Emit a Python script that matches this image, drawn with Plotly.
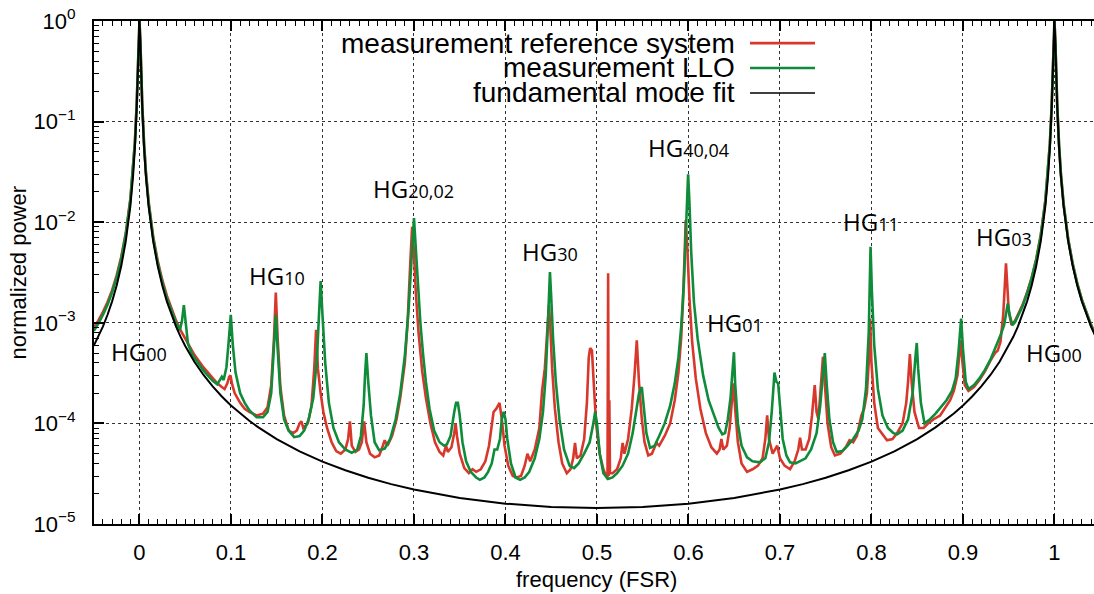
import plotly.graph_objects as go

# ---------------- data ----------------
fit_x = [-0.05, -0.045, -0.04, -0.035, -0.03, -0.025, -0.02, -0.015, -0.01, -0.007, -0.005, -0.003,
         -0.002, -0.001, 0.0, 0.001, 0.002, 0.003, 0.005, 0.007, 0.01, 0.015, 0.02, 0.025, 0.03,
         0.035, 0.04, 0.045, 0.05, 0.06, 0.07, 0.08, 0.09, 0.1, 0.11, 0.12, 0.13, 0.15, 0.175, 0.2,
         0.225, 0.25, 0.275, 0.3, 0.35, 0.4, 0.45, 0.5, 0.55, 0.6, 0.65, 0.7, 0.725, 0.75, 0.775,
         0.8, 0.825, 0.85, 0.87, 0.88, 0.89, 0.9, 0.91, 0.92, 0.93, 0.94, 0.95, 0.955, 0.96, 0.965,
         0.97, 0.975, 0.98, 0.985, 0.99, 0.993, 0.995, 0.997, 0.998, 0.999, 1.0, 1.001, 1.002,
         1.003, 1.005, 1.007, 1.01, 1.015, 1.02, 1.025, 1.03, 1.035, 1.04, 1.045, 1.05]
fit_y = [5.89e-4, 7.25e-4, 9.17e-4, 1.195e-3, 1.624e-3, 2.335e-3, 3.64e-3, 6.45e-3, 1.44e-2,
         2.89e-2, 5.52e-2, 0.1396, 0.267, 0.593, 1.0, 0.593, 0.267, 0.1396, 5.52e-2, 2.89e-2,
         1.44e-2, 6.45e-3, 3.64e-3, 2.335e-3, 1.624e-3, 1.195e-3, 9.17e-4, 7.25e-4, 5.89e-4,
         4.10e-4, 3.03e-4, 2.33e-4, 1.85e-4, 1.509e-4, 1.256e-4, 1.063e-4, 9.13e-5, 6.99e-5,
         5.28e-5, 4.17e-5, 3.42e-5, 2.88e-5, 2.49e-5, 2.20e-5, 1.815e-5, 1.593e-5, 1.477e-5,
         1.441e-5, 1.477e-5, 1.593e-5, 1.815e-5, 2.20e-5, 2.49e-5, 2.88e-5, 3.42e-5, 4.17e-5,
         5.28e-5, 6.99e-5, 9.13e-5, 1.063e-4, 1.256e-4, 1.509e-4, 1.85e-4, 2.33e-4, 3.03e-4,
         4.10e-4, 5.89e-4, 7.25e-4, 9.17e-4, 1.195e-3, 1.624e-3, 2.335e-3, 3.64e-3, 6.45e-3,
         1.44e-2, 2.89e-2, 5.52e-2, 0.1396, 0.267, 0.593, 1.0, 0.593, 0.267, 0.1396, 5.52e-2,
         2.89e-2, 1.44e-2, 6.45e-3, 3.64e-3, 2.335e-3, 1.624e-3, 1.195e-3, 9.17e-4, 7.25e-4,
         5.89e-4]

llo_x = [-0.05, -0.045, -0.04, -0.035, -0.03, -0.025, -0.02, -0.015, -0.01, -0.007, -0.005, -0.003,
         -0.002, -0.001, 0.0, 0.001, 0.002, 0.003, 0.005, 0.007, 0.01, 0.015, 0.02, 0.025, 0.03,
         0.035, 0.04, 0.044, 0.0465, 0.0485, 0.0505, 0.053, 0.057, 0.06, 0.07, 0.08, 0.085, 0.088,
         0.09, 0.092, 0.095, 0.0975, 0.0998, 0.102, 0.105, 0.11, 0.115, 0.12, 0.128, 0.135, 0.14,
         0.144, 0.147, 0.149, 0.151, 0.154, 0.158, 0.163, 0.169, 0.175, 0.18, 0.185, 0.19, 0.194,
         0.196, 0.198, 0.2, 0.203, 0.207, 0.212, 0.218, 0.225, 0.232, 0.238, 0.242, 0.245, 0.2465,
         0.248, 0.25, 0.253, 0.257, 0.262, 0.268, 0.274, 0.28, 0.285, 0.29, 0.294, 0.297, 0.299,
         0.3, 0.302, 0.304, 0.307, 0.31, 0.313, 0.317, 0.322, 0.328, 0.333, 0.336, 0.34, 0.344,
         0.346, 0.348, 0.35, 0.353, 0.357, 0.362, 0.368, 0.372, 0.377, 0.381, 0.385, 0.388, 0.391,
         0.394, 0.396, 0.398, 0.4, 0.402, 0.406, 0.411, 0.416, 0.421, 0.426, 0.432, 0.437, 0.441,
         0.444, 0.446, 0.4475, 0.4486, 0.45, 0.452, 0.455, 0.459, 0.464, 0.47, 0.475, 0.48, 0.486,
         0.492, 0.496, 0.498, 0.5, 0.503, 0.507, 0.512, 0.517, 0.522, 0.528, 0.534, 0.539, 0.543,
         0.546, 0.549, 0.551, 0.554, 0.558, 0.563, 0.568, 0.574, 0.58, 0.585, 0.589, 0.592, 0.595,
         0.597, 0.5985, 0.5996, 0.601, 0.603, 0.606, 0.61, 0.616, 0.622, 0.628, 0.633, 0.637, 0.64,
         0.643, 0.646, 0.6475, 0.6497, 0.651, 0.654, 0.658, 0.664, 0.67, 0.678, 0.684, 0.688,
         0.691, 0.693, 0.694, 0.696, 0.698, 0.7, 0.703, 0.707, 0.711, 0.717, 0.722, 0.728, 0.734,
         0.74, 0.744, 0.747, 0.749, 0.751, 0.754, 0.758, 0.762, 0.768, 0.774, 0.78, 0.786, 0.79,
         0.794, 0.797, 0.799, 0.8005, 0.803, 0.807, 0.812, 0.818, 0.824, 0.828, 0.834, 0.84, 0.845,
         0.848, 0.8495, 0.851, 0.854, 0.858, 0.864, 0.87, 0.876, 0.882, 0.888, 0.892, 0.895, 0.897,
         0.898, 0.9, 0.903, 0.906, 0.912, 0.918, 0.924, 0.93, 0.936, 0.941, 0.945, 0.948, 0.949,
         0.951, 0.954, 0.957, 0.96, 0.965, 0.97, 0.975, 0.98, 0.985, 0.99, 0.993, 0.995, 0.997,
         0.998, 0.999, 1.0, 1.001, 1.002, 1.003, 1.005, 1.007, 1.01, 1.015, 1.02, 1.025, 1.03,
         1.035, 1.04, 1.045, 1.05]
llo_y = [8.3e-4, 9.8e-4, 1.2e-3, 1.5e-3, 2.0e-3, 2.8e-3, 4.3e-3, 7.5e-3, 1.65e-2, 3.25e-2, 6.1e-2,
         0.15, 0.28, 0.61, 1.0, 0.61, 0.28, 0.148, 5.9e-2, 3.1e-2, 1.55e-2, 6.9e-3, 3.9e-3, 2.5e-3,
         1.75e-3, 1.3e-3, 1.0e-3, 8.4e-4, 1.05e-3, 1.5e-3, 9.5e-4, 6.2e-4, 5.0e-4, 4.5e-4, 3.35e-4,
         2.65e-4, 2.45e-4, 2.75e-4, 2.9e-4, 2.7e-4, 3.6e-4, 6.5e-4, 1.2e-3, 6.0e-4, 3.2e-4, 2.0e-4,
         1.6e-4, 1.35e-4, 1.15e-4, 1.15e-4, 1.3e-4, 2.0e-4, 5.5e-4, 1.2e-3, 5.5e-4, 2.0e-4, 1.1e-4,
         8.5e-5, 7.3e-5, 7.5e-5, 8.5e-5, 1.1e-4, 1.8e-4, 4.5e-4, 1.1e-3, 2.6e-3, 1.2e-3, 4.0e-4,
         1.6e-4, 9.0e-5, 6.5e-5, 5.5e-5, 5.1e-5, 5.5e-5, 7.5e-5, 1.5e-4, 3.0e-4, 5.0e-4, 2.6e-4,
         1.2e-4, 6.5e-5, 5.4e-5, 5.6e-5, 7.0e-5, 1.1e-4, 2.0e-4, 4.7e-4, 1.3e-3, 3.8e-3, 9.0e-3,
         1.1e-2, 5.5e-3, 2.6e-3, 1.0e-3, 4.8e-4, 2.6e-4, 1.4e-4, 8.5e-5, 6.5e-5, 6.0e-5, 6.2e-5,
         7.5e-5, 1.3e-4, 1.6e-4, 1.6e-4, 1.2e-4, 6.5e-5, 4.2e-5, 3.3e-5, 2.9e-5, 2.75e-5, 2.9e-5,
         3.3e-5, 4.0e-5, 5.5e-5, 5.5e-5, 7.0e-5, 1.1e-4, 1.3e-4, 1.1e-4, 7.0e-5, 4.0e-5, 2.9e-5,
         2.75e-5, 2.9e-5, 3.3e-5, 4.5e-5, 7.0e-5, 1.3e-4, 3.0e-4, 8.0e-4, 2.0e-3, 3.2e-3, 1.8e-3,
         7.0e-4, 2.6e-4, 1.1e-4, 5.5e-5, 3.8e-5, 3.6e-5, 4.0e-5, 5.0e-5, 6.5e-5, 1.0e-4, 1.3e-4,
         1.0e-4, 5.0e-5, 3.2e-5, 2.8e-5, 2.9e-5, 3.2e-5, 3.8e-5, 5.0e-5, 8.0e-5, 1.4e-4, 2.0e-4,
         2.3e-4, 1.5e-4, 8.0e-5, 5.7e-5, 6.0e-5, 7.5e-5, 1.0e-4, 1.5e-4, 2.5e-4, 4.5e-4, 9.0e-4,
         2.5e-3, 8.0e-3, 2.0e-2, 3.0e-2, 1.6e-2, 5.0e-3, 1.6e-3, 7.0e-4, 3.0e-4, 1.7e-4, 1.2e-4,
         9.0e-5, 7.8e-5, 8.0e-5, 1.1e-4, 1.8e-4, 2.8e-4, 5.1e-4, 2.5e-4, 1.0e-4, 6.0e-5, 4.6e-5,
         4.2e-5, 4.1e-5, 4.5e-5, 6.5e-5, 1.3e-4, 2.7e-4, 3.2e-4, 2.6e-4, 2.5e-4, 1.5e-4, 7.0e-5,
         4.8e-5, 4.1e-5, 4.0e-5, 4.2e-5, 4.5e-5, 5.5e-5, 8.0e-5, 1.5e-4, 3.2e-4, 5.0e-4, 2.5e-4,
         1.1e-4, 6.5e-5, 5.2e-5, 5.3e-5, 6.0e-5, 7.0e-5, 8.5e-5, 1.1e-4, 2.2e-4, 8.0e-4, 5.7e-3,
         2.0e-3, 6.0e-4, 2.2e-4, 1.2e-4, 9.0e-5, 8.0e-5, 7.8e-5, 8.5e-5, 1.1e-4, 2.0e-4, 4.5e-4,
         6.3e-4, 3.5e-4, 1.6e-4, 1.0e-4, 1.1e-4, 1.25e-4, 1.45e-4, 1.7e-4, 2.1e-4, 2.8e-4, 5.0e-4,
         9.0e-4, 1.1e-3, 5.5e-4, 2.6e-4, 2.2e-4, 2.4e-4, 2.8e-4, 3.4e-4, 4.3e-4, 5.8e-4, 7.5e-4,
         9.5e-4, 1.4e-3, 1.56e-3, 1.2e-3, 9.5e-4, 1.02e-3, 1.15e-3, 1.45e-3, 1.95e-3, 2.75e-3,
         4.2e-3, 7.3e-3, 1.6e-2, 3.2e-2, 6.0e-2, 0.148, 0.278, 0.605, 1.0, 0.605, 0.275, 0.145,
         5.8e-2, 3.0e-2, 1.5e-2, 6.7e-3, 3.8e-3, 2.42e-3, 1.68e-3, 1.23e-3, 9.4e-4, 7.5e-4, 6.1e-4]

ref_x = [-0.05, -0.045, -0.04, -0.035, -0.03, -0.025, -0.02, -0.015, -0.01, -0.007, -0.005, -0.003,
         -0.002, -0.001, 0.0, 0.001, 0.002, 0.003, 0.005, 0.007, 0.01, 0.015, 0.02, 0.025, 0.03,
         0.035, 0.04, 0.045, 0.05, 0.055, 0.06, 0.07, 0.08, 0.085, 0.09, 0.093, 0.096, 0.098,
         0.0995, 0.101, 0.104, 0.11, 0.115, 0.12, 0.128, 0.135, 0.14, 0.144, 0.147, 0.149, 0.151,
         0.154, 0.158, 0.163, 0.168, 0.172, 0.175, 0.177, 0.179, 0.184, 0.188, 0.191, 0.193, 0.195,
         0.198, 0.201, 0.205, 0.21, 0.215, 0.22, 0.225, 0.228, 0.23, 0.232, 0.236, 0.24, 0.243,
         0.2455, 0.248, 0.252, 0.257, 0.262, 0.266, 0.268, 0.271, 0.276, 0.281, 0.285, 0.29, 0.293,
         0.296, 0.298, 0.3, 0.302, 0.305, 0.309, 0.313, 0.318, 0.323, 0.328, 0.332, 0.335, 0.337,
         0.341, 0.344, 0.3455, 0.347, 0.35, 0.355, 0.36, 0.364, 0.368, 0.373, 0.378, 0.382, 0.385,
         0.387, 0.39, 0.3935, 0.396, 0.399, 0.403, 0.408, 0.412, 0.417, 0.421, 0.424, 0.427, 0.432,
         0.437, 0.44, 0.443, 0.446, 0.4475, 0.449, 0.451, 0.454, 0.458, 0.462, 0.467, 0.471, 0.474,
         0.476, 0.478, 0.482, 0.486, 0.489, 0.491, 0.4925, 0.4945, 0.496, 0.499, 0.503, 0.507,
         0.5115, 0.5122, 0.5128, 0.5135, 0.5142, 0.517, 0.522, 0.526, 0.528, 0.53, 0.534, 0.538,
         0.541, 0.5435, 0.546, 0.549, 0.552, 0.556, 0.56, 0.565, 0.568, 0.574, 0.58, 0.585, 0.589,
         0.592, 0.594, 0.596, 0.597, 0.599, 0.601, 0.604, 0.608, 0.613, 0.619, 0.625, 0.631, 0.634,
         0.636, 0.638, 0.642, 0.645, 0.647, 0.649, 0.651, 0.654, 0.658, 0.664, 0.67, 0.676, 0.681,
         0.684, 0.686, 0.688, 0.692, 0.695, 0.697, 0.7, 0.705, 0.711, 0.716, 0.72, 0.722, 0.724,
         0.728, 0.732, 0.735, 0.738, 0.74, 0.742, 0.745, 0.747, 0.749, 0.752, 0.756, 0.76, 0.766,
         0.772, 0.776, 0.78, 0.784, 0.789, 0.792, 0.795, 0.797, 0.7985, 0.8, 0.803, 0.807, 0.811,
         0.817, 0.823, 0.828, 0.834, 0.838, 0.84, 0.842, 0.844, 0.847, 0.852, 0.857, 0.862, 0.868,
         0.875, 0.881, 0.886, 0.89, 0.894, 0.896, 0.8975, 0.8995, 0.902, 0.906, 0.912, 0.918, 0.924,
         0.93, 0.935, 0.938, 0.941, 0.944, 0.946, 0.947, 0.9485, 0.95, 0.953, 0.957, 0.96, 0.965,
         0.97, 0.975, 0.98, 0.985, 0.99, 0.993, 0.995, 0.997, 0.998, 0.999, 1.0, 1.001, 1.002,
         1.003, 1.005, 1.007, 1.01, 1.015, 1.02, 1.025, 1.03, 1.035, 1.04, 1.045, 1.05]
ref_y = [9.0e-4, 1.05e-3, 1.28e-3, 1.6e-3, 2.1e-3, 2.95e-3, 4.5e-3, 7.8e-3, 1.7e-2, 3.35e-2, 6.3e-2,
         0.155, 0.29, 0.62, 1.0, 0.62, 0.29, 0.152, 6.1e-2, 3.2e-2, 1.6e-2, 7.2e-3, 4.1e-3, 2.65e-3,
         1.85e-3, 1.38e-3, 1.05e-3, 8.4e-4, 7.0e-4, 5.7e-4, 4.8e-4, 3.6e-4, 2.8e-4, 2.5e-4, 2.3e-4,
         2.2e-4, 2.5e-4, 2.9e-4, 3.0e-4, 2.5e-4, 2.0e-4, 1.6e-4, 1.4e-4, 1.3e-4, 1.2e-4, 1.25e-4,
         1.45e-4, 2.4e-4, 7.0e-4, 2.0e-3, 7.0e-4, 2.3e-4, 1.2e-4, 8.5e-5, 8.0e-5, 8.5e-5, 1.0e-4,
         1.05e-4, 9.0e-5, 1.0e-4, 1.5e-4, 3.5e-4, 8.5e-4, 3.5e-4, 2.0e-4, 1.3e-4, 9.0e-5, 6.5e-5,
         5.3e-5, 5.0e-5, 5.5e-5, 7.0e-5, 1.05e-4, 6.0e-5, 5.2e-5, 5.5e-5, 6.5e-5, 1.05e-4, 6.5e-5,
         5.0e-5, 4.6e-5, 4.8e-5, 6.0e-5, 6.8e-5, 6.0e-5, 7.5e-5, 1.1e-4, 1.8e-4, 4.0e-4, 1.0e-3,
         4.0e-3, 9.0e-3, 5.0e-3, 2.0e-3, 8.0e-4, 3.3e-4, 1.8e-4, 1.0e-4, 6.5e-5, 5.2e-5, 4.8e-5,
         6.0e-5, 5.2e-5, 5.8e-5, 8.0e-5, 1.0e-4, 7.5e-5, 5.0e-5, 3.6e-5, 3.2e-5, 3.5e-5, 3.3e-5,
         3.5e-5, 4.2e-5, 6.0e-5, 1.0e-4, 1.3e-4, 1.4e-4, 1.6e-4, 1.1e-4, 6.0e-5, 3.8e-5, 3.0e-5,
         2.9e-5, 3.0e-5, 3.8e-5, 5.0e-5, 4.2e-5, 5.5e-5, 9.0e-5, 2.1e-4, 3.5e-4, 9.0e-4, 1.5e-3,
         9.0e-4, 3.5e-4, 1.4e-4, 6.5e-5, 4.0e-5, 3.2e-5, 3.5e-5, 4.5e-5, 6.4e-5, 4.5e-5, 4.8e-5,
         7.0e-5, 1.6e-4, 4.5e-4, 5.6e-4, 5.3e-4, 3.0e-4, 1.0e-4, 5.0e-5, 3.5e-5, 2.8e-5, 3.1e-3,
         3.0e-5, 1.7e-4, 3.2e-5, 3.2e-5, 3.5e-5, 4.5e-5, 6.4e-5, 5.0e-5, 7.0e-5, 1.4e-4, 3.0e-4,
         6.7e-4, 2.5e-4, 1.1e-4, 6.5e-5, 4.8e-5, 5.0e-5, 6.4e-5, 6.0e-5, 7.5e-5, 1.0e-4, 1.7e-4,
         3.2e-4, 7.0e-4, 1.6e-3, 5.0e-3, 1.05e-2, 5.0e-3, 1.8e-3, 6.5e-4, 2.8e-4, 1.4e-4, 8.0e-5,
         5.8e-5, 5.0e-5, 5.5e-5, 7.0e-5, 5.5e-5, 6.0e-5, 9.0e-5, 1.6e-4, 2.5e-4, 1.4e-4, 6.5e-5,
         4.0e-5, 3.3e-5, 3.5e-5, 3.8e-5, 4.5e-5, 7.0e-5, 1.2e-4, 7.0e-5, 5.0e-5, 5.5e-5, 6.0e-5,
         4.5e-5, 3.8e-5, 3.5e-5, 4.2e-5, 5.5e-5, 7.2e-5, 5.5e-5, 5.5e-5, 7.0e-5, 1.2e-4, 2.4e-4,
         1.3e-4, 1.1e-4, 2.5e-4, 4.6e-4, 2.5e-4, 1.0e-4, 5.8e-5, 4.8e-5, 5.0e-5, 5.8e-5, 6.8e-5,
         6.5e-5, 7.5e-5, 1.2e-4, 1.4e-4, 2.0e-4, 4.0e-4, 1.1e-3, 4.0e-4, 1.6e-4, 9.0e-5, 8.0e-5,
         6.8e-5, 7.0e-5, 8.0e-5, 1.0e-4, 1.6e-4, 2.6e-4, 4.9e-4, 2.5e-4, 1.3e-4, 9.0e-5, 9.0e-5,
         1.0e-4, 1.1e-4, 1.2e-4, 1.45e-4, 1.7e-4, 2.1e-4, 3.0e-4, 4.8e-4, 6.7e-4, 4.0e-4, 2.4e-4,
         2.1e-4, 2.3e-4, 2.7e-4, 3.3e-4, 4.2e-4, 5.0e-4, 5.3e-4, 6.5e-4, 1.2e-3, 2.8e-3, 3.9e-3,
         2.3e-3, 1.3e-3, 9.5e-4, 1.05e-3, 1.2e-3, 1.5e-3, 2.0e-3, 2.8e-3, 4.3e-3, 7.5e-3, 1.65e-2,
         3.25e-2, 6.1e-2, 0.15, 0.28, 0.61, 1.0, 0.61, 0.28, 0.148, 5.9e-2, 3.05e-2, 1.52e-2,
         6.8e-3, 3.85e-3, 2.45e-3, 1.7e-3, 1.25e-3, 9.6e-4, 7.6e-4, 6.2e-4]

legend_names = ["measurement reference system", "measurement LLO", "fundamental mode fit"]
series_colors = ["#d8382b", "#0e8c3a", "#000000"]

mode_base = ["HG", "HG", "HG", "HG", "HG", "HG", "HG", "HG", "HG"]
mode_index = ["00", "10", "20,02", "30", "40,04", "01", "11", "03", "00"]
mode_label_x = [0.0, 0.150, 0.299, 0.449, 0.600, 0.651, 0.800, 0.945, 0.9995]
mode_label_logy = [-3.29, -2.53, -1.665, -2.29, -1.257, -3.0, -1.993, -2.147, -3.30]

y_tickvals = [1e-5, 1e-4, 1e-3, 1e-2, 1e-1, 1]
y_ticktext = ["10<sup>\u22125</sup>", "10<sup>\u22124</sup>", "10<sup>\u22123</sup>",
              "10<sup>\u22122</sup>", "10<sup>\u22121</sup>", "10<sup>0</sup>"]
y_minor = [m * 10.0 ** e for e in range(-5, 0) for m in range(2, 10)]

# ---------------- figure ----------------
fig = go.Figure()
fig.add_trace(go.Scatter(x=ref_x, y=ref_y, mode="lines", name=legend_names[0],
                         line=dict(color=series_colors[0], width=2.6)))
fig.add_trace(go.Scatter(x=llo_x, y=llo_y, mode="lines", name=legend_names[1],
                         line=dict(color=series_colors[1], width=2.6)))
fig.add_trace(go.Scatter(x=fit_x, y=fit_y, mode="lines", name=legend_names[2],
                         line=dict(color=series_colors[2], width=2)))

tick_font = dict(family="Liberation Sans, Arial, sans-serif", size=22, color="black")
fig.update_layout(
    width=1094, height=594,
    margin=dict(l=94, r=0, t=21, b=70),
    paper_bgcolor="white", plot_bgcolor="white",
    showlegend=False,
    font=tick_font,
    xaxis=dict(range=[-0.0497, 1.0432], tick0=0, dtick=0.1, ticks="inside", ticklen=10,
               tickwidth=1.5, tickcolor="black", showline=True, linewidth=2, linecolor="black",
               mirror="ticks", showgrid=True, gridcolor="#333333", griddash="dot", gridwidth=1,
               zeroline=False, tickfont=tick_font, ticklabelstandoff=8,
               minor=dict(tick0=0, dtick=0.01, ticks="inside", ticklen=5, tickwidth=1.2,
                          tickcolor="black", showgrid=False)),
    yaxis=dict(type="log", range=[-5, 0], tickmode="array", tickvals=y_tickvals,
               ticktext=y_ticktext, ticks="inside", ticklen=10, tickwidth=1.5,
               tickcolor="black", showline=True, linewidth=2, linecolor="black", mirror=False,
               showgrid=True, gridcolor="#333333", griddash="dot", gridwidth=1, zeroline=False,
               tickfont=tick_font, ticklabelstandoff=12,
               minor=dict(tickmode="array", tickvals=y_minor, ticks="inside", ticklen=5,
                          tickwidth=1.2, tickcolor="black", showgrid=False)),
)

# axis titles
fig.add_annotation(text="frequency (FSR)", xref="paper", yref="paper", x=0.5025, y=-0.111,
                   xanchor="center", yanchor="middle", showarrow=False, font=tick_font)
fig.add_annotation(text="normalized power", xref="paper", yref="paper", x=-0.076, y=0.5,
                   xanchor="center", yanchor="middle", textangle=-90, showarrow=False,
                   font=tick_font)

# mode labels: subscript drawn as a smaller run on (almost) the same baseline
for base, idx, lx, ly in zip(mode_base, mode_index, mode_label_x, mode_label_logy):
    lab = base + '<span style="font-size:18px">' + idx + '</span>'
    fig.add_annotation(text=lab, x=lx, y=ly, xref="x", yref="y", showarrow=False,
                       xanchor="center", yanchor="middle",
                       font=dict(family="Open Sans, sans-serif", size=24, color="black"))

# legend (text right of sample lines, gnuplot style)
leg_rows_y = [0.956, 0.9066, 0.857]
leg_widths = [2.6, 2.6, 1.5]
for name, col, ry, lw in zip(legend_names, series_colors, leg_rows_y, leg_widths):
    fig.add_annotation(text=name, xref="paper", yref="paper", x=0.643, y=ry, xanchor="right",
                       yanchor="middle", showarrow=False,
                       font=dict(family="Liberation Sans, Arial, sans-serif", size=28,
                                 color="black"))
    fig.add_shape(type="line", xref="paper", yref="paper", x0=0.656, x1=0.721, y0=ry, y1=ry,
                  line=dict(color=col, width=lw))

fig.write_html("out.html")
